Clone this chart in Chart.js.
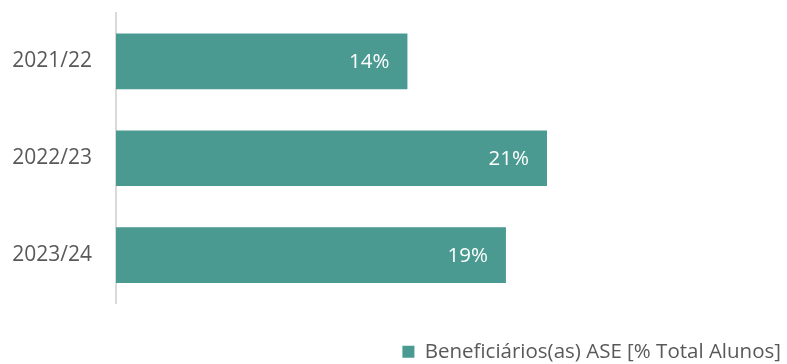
<!DOCTYPE html>
<html>
<head>
<meta charset="utf-8">
<script src="https://cdn.jsdelivr.net/npm/chart.js@4"></script>
<style>
  html, body { margin: 0; padding: 0; background: #fff; }
  #wrap { width: 787px; height: 364px; }
</style>
</head>
<body>
<div id="wrap"><canvas id="grafico"></canvas></div>
<script>
// dados
var anosLetivos = ['2021/22', '2022/23', '2023/24'];
var beneficiarios = [14.2, 21.0, 19.0];
var nomeSerie = 'Beneficiários(as) ASE [% Total Alunos]';

var corBarra = '#4A9A91';
var fonte = "'Open Sans', sans-serif";

// rotulos dentro das barras
var rotulosBarras = {
    id: 'rotulosBarras',
    afterDatasetsDraw: function(chart) {
        var ctx = chart.ctx;
        var meta = chart.getDatasetMeta(0);
        ctx.save();
        ctx.fillStyle = '#ffffff';
        ctx.font = '20.5px ' + fonte;
        ctx.textAlign = 'right';
        ctx.textBaseline = 'middle';
        meta.data.forEach(function(barra, i) {
            var valor = chart.data.datasets[0].data[i];
            ctx.fillText(Math.round(valor) + '%', barra.x - 18, barra.y + 1);
        });
        ctx.restore();
    }
};

window.onload = function() {
    var ctx = document.getElementById('grafico').getContext('2d');
    window.meuGrafico = new Chart(ctx, {
        type: 'bar',
        data: {
            labels: anosLetivos,
            datasets: [{
                label: nomeSerie,
                data: beneficiarios,
                backgroundColor: corBarra,
                borderWidth: 0,
                categoryPercentage: 1,
                barPercentage: 0.575
            }]
        },
        plugins: [rotulosBarras],
        options: {
            indexAxis: 'y',
            responsive: true,
            maintainAspectRatio: false,
            animation: false,
            layout: {
                padding: { top: 13, right: 4, bottom: -8, left: 0 }
            },
            scales: {
                x: {
                    min: 0,
                    max: 32.5,
                    grid: { display: false },
                    border: { display: false },
                    ticks: { display: false },
                    afterFit: function(escala) {
                        escala.height = 36;
                        escala.paddingLeft = 0;
                        escala.paddingRight = 0;
                    }
                },
                y: {
                    grid: { display: false, drawTicks: false },
                    border: { display: true, color: '#d9d9d9', width: 2 },
                    ticks: {
                        color: '#595959',
                        padding: 24,
                        font: { family: fonte, size: 21 }
                    },
                    afterFit: function(escala) {
                        escala.width = 116;
                        escala.paddingTop = 0;
                        escala.paddingBottom = 0;
                    }
                }
            },
            plugins: {
                tooltip: { enabled: false },
                legend: {
                    position: 'bottom',
                    align: 'end',
                    labels: {
                        boxWidth: 12,
                        boxHeight: 12,
                        padding: 2,
                        color: '#595959',
                        font: { family: fonte, size: 20.5, lineHeight: 1 }
                    }
                }
            }
        }
    });
}
</script>
</body>
</html>
